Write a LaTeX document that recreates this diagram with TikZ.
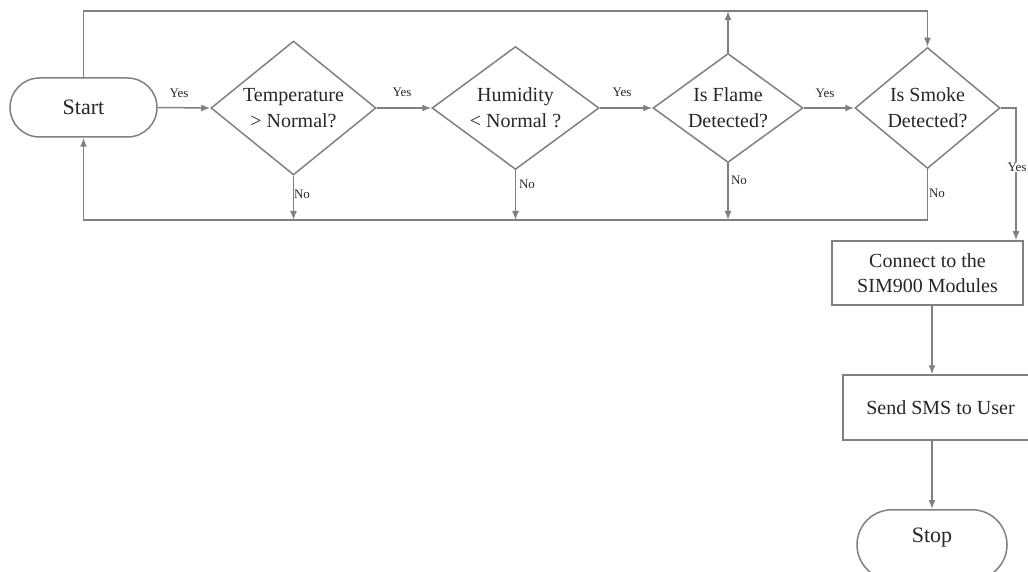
\documentclass[tikz,border=0pt]{standalone}
\usepackage{fontspec}
\setmainfont{Liberation Serif}
\usetikzlibrary{shapes.geometric,shapes.misc,arrows.meta,calc}
\definecolor{ln}{HTML}{808080}
\definecolor{tx}{HTML}{262626}
\begin{document}
\begin{tikzpicture}[x=1pt,y=-1pt,
  every node/.style={text=tx},
  term/.style={rounded rectangle, draw=ln, line width=1.5pt, inner xsep=0pt, font=\fontsize{22}{26}\selectfont},
  dec/.style={diamond, draw=ln, line width=1.5pt, inner sep=0pt, align=center, font=\fontsize{20}{26}\selectfont},
  proc/.style={rectangle, draw=ln, line width=1.5pt, inner sep=0pt, align=center, font=\fontsize{20}{25}\selectfont},
  lbl/.style={font=\fontsize{13}{15}\selectfont, inner sep=1pt},
  arr/.style={draw=ln, line width=1.5pt, -{Latex[length=9pt,width=7pt]}}]
\useasboundingbox (0,0) rectangle (1028,572);
\clip (0,0) rectangle (1028,572);
% nodes
\node[term, minimum width=147pt, minimum height=59pt] (start) at (83.5,107.5) {Start};
\node[dec, aspect=1.23, minimum width=165pt, minimum height=134pt] (temp) at (293.5,108) {Temperature\\> Normal?};
\node[dec, aspect=1.36, minimum width=167pt, minimum height=123pt] (hum) at (515.5,108) {Humidity\\< Normal ?};
\node[dec, aspect=1.38, minimum width=150pt, minimum height=109pt] (flame) at (728,108) {Is Flame\\Detected?};
\node[dec, aspect=1.2, minimum width=145pt, minimum height=121pt] (smoke) at (927.5,108) {Is Smoke\\Detected?};
\node[proc, minimum width=191pt, minimum height=64pt] (conn) at (927.5,273) {Connect to the\\SIM900 Modules};
\node[proc, minimum width=195pt, minimum height=65pt] (send) at (940.5,407.5) {Send SMS to User};
\node[term, minimum width=150pt, text height=14pt, text depth=18pt, inner ysep=19pt, anchor=north] (stop) at (932,509) {Stop};
% helper coordinates
\coordinate (tl) at (83.5,11);
\coordinate (bl) at (0,220);
\coordinate (yr) at (1016,108);
% connectors
\draw[arr] (start.east) -- (temp.west);
\draw[arr] (temp.east) -- (hum.west);
\draw[arr] (hum.east) -- (flame.west);
\draw[arr] (flame.east) -- (smoke.west);
\draw[arr] (start.north) -- (start.north |- tl) -- (smoke.north |- tl) -- (smoke.north);
\draw[arr] (flame.north) -- (flame.north |- tl);
\draw[arr] (temp.south) -- (temp.south |- bl);
\draw[arr] (hum.south) -- (hum.south |- bl);
\draw[arr] (flame.south) -- (flame.south |- bl);
\draw[arr] (smoke.south) -- (smoke.south |- bl) -- (start.south |- bl) -- (start.south);
\draw[arr] (smoke.east) -- (yr) -- (yr |- conn.north);
\draw[arr] (stop.north |- conn.south) -- (stop.north |- send.north);
\draw[arr] (stop.north |- send.south) -- (stop.north);
% labels
\node[lbl] (y1) at (179,93) {Yes};
\node[lbl] (y2) at (402,92) {Yes};
\node[lbl] (y3) at (622,92) {Yes};
\node[lbl] (y4) at (825,93) {Yes};
\node[lbl, fill=white] (y5) at (1017,167) {Yes};
\node[lbl] (n1) at (302,194) {No};
\node[lbl] (n2) at (527,184) {No};
\node[lbl] (n3) at (739,180) {No};
\node[lbl] (n4) at (937,193) {No};
\end{tikzpicture}
\end{document}
